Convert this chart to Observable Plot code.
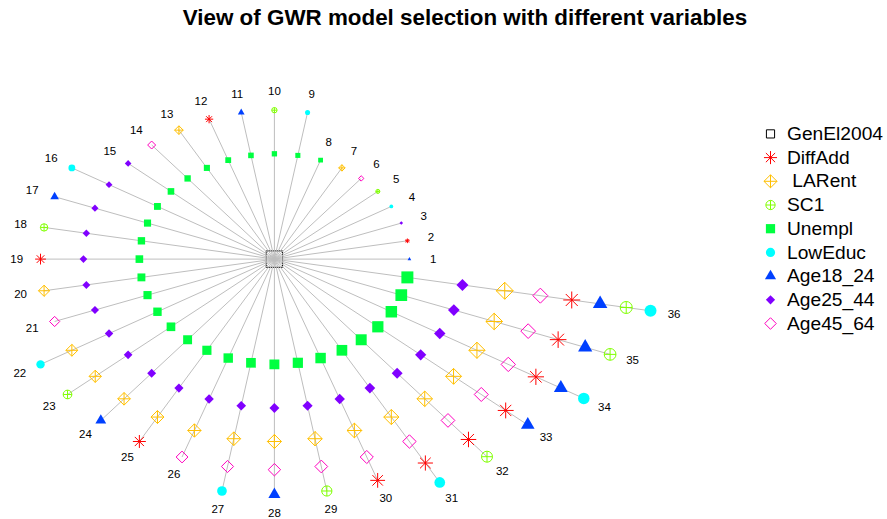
<!DOCTYPE html>
<html>
<head>
<meta charset="utf-8">
<script src="https://cdn.jsdelivr.net/npm/d3@7"></script>
<script src="https://cdn.jsdelivr.net/npm/@observablehq/plot@0.6"></script>
<style>
  body { margin: 0; background: #fff; }
  #wrap { position: relative; width: 887px; height: 519px; overflow: hidden; }
  #title { position: absolute; left: 0; top: 7px; width: 930px; text-align: center;
           font: bold 22.4px "Liberation Sans", Arial, sans-serif; line-height: 22px; color: #000; }
  #chart { position: absolute; left: 0; top: 0; }
</style>
</head>
<body>
<div id="wrap">
  <div id="chart"></div>
  <div id="title">View of GWR model selection with different variables</div>
</div>
<script>
// ---------------- data ----------------
const dependentVar = "GenEl2004";
const variables = ["DiffAdd", "LARent", "SC1", "Unempl", "LowEduc", "Age18_24", "Age25_44", "Age45_64"];
const legendLabels = ["GenEl2004", "DiffAdd", "\u00a0LARent", "SC1", "Unempl", "LowEduc", "Age18_24", "Age25_44", "Age45_64"];
// variable kept after each selection round (stepwise forward selection)
const selectedOrder = ["Unempl", "Age25_44", "LARent", "Age45_64", "DiffAdd", "Age18_24", "SC1"];
// candidate variable tried in each model of each round (models 1..36)
const round1 = ["Age18_24", "DiffAdd", "Age25_44", "LowEduc", "SC1", "Age45_64", "LARent", "Unempl"];
const round2 = ["LowEduc", "SC1", "Age18_24", "DiffAdd", "LARent", "Age45_64", "Age25_44"];
const round3 = ["LowEduc", "Age18_24", "SC1", "DiffAdd", "LARent", "Age45_64"];
const round4 = ["LowEduc", "SC1", "Age18_24", "DiffAdd", "Age45_64"];
const round5 = ["LowEduc", "Age18_24", "SC1", "DiffAdd"];
const round6 = ["LowEduc", "SC1", "Age18_24"];
const round7 = ["LowEduc", "SC1"];
const round8 = ["LowEduc"];

// ---------------- styles ----------------
const colors = ["#FF0000", "#FFBF00", "#80FF00", "#00FF40", "#00FFFF", "#0040FF", "#8000FF", "#FF00BF"];
const R2 = Math.SQRT2;
const rad = s => Math.sqrt(s / Math.PI);
const sym = {
  asterisk: {draw(c, s) { const r = rad(s), q = R2 * r;
    c.moveTo(-r, -r); c.lineTo(r, r); c.moveTo(-r, r); c.lineTo(r, -r);
    c.moveTo(-q, 0); c.lineTo(q, 0); c.moveTo(0, -q); c.lineTo(0, q); }},
  diamondPlus: {draw(c, s) { const d = R2 * rad(s);
    c.moveTo(0, -d); c.lineTo(d, 0); c.lineTo(0, d); c.lineTo(-d, 0); c.closePath();
    c.moveTo(-d, 0); c.lineTo(d, 0); c.moveTo(0, -d); c.lineTo(0, d); }},
  circlePlus: {draw(c, s) { const r = rad(s);
    c.moveTo(r, 0); c.arc(0, 0, r, 0, 2 * Math.PI);
    c.moveTo(-r, 0); c.lineTo(r, 0); c.moveTo(0, -r); c.lineTo(0, r); }},
  squareFill: {draw(c, s) { const r = rad(s); c.rect(-r, -r, 2 * r, 2 * r); }},
  circleFill: {draw(c, s) { const r = rad(s); c.moveTo(r, 0); c.arc(0, 0, r, 0, 2 * Math.PI); }},
  triangleFill: {draw(c, s) { const r = rad(s) * 0.9;
    c.moveTo(0, -1.5551 * r); c.lineTo(1.3468 * r, 0.7776 * r); c.lineTo(-1.3468 * r, 0.7776 * r); c.closePath(); }},
  diamondFill: {draw(c, s) { const r = rad(s);
    c.moveTo(0, -r); c.lineTo(r, 0); c.lineTo(0, r); c.lineTo(-r, 0); c.closePath(); }},
  diamondOpen: {draw(c, s) { const d = 1.2533 * rad(s);
    c.moveTo(0, -d); c.lineTo(d, 0); c.lineTo(0, d); c.lineTo(-d, 0); c.closePath(); }},
  squareOpen: {draw(c, s) { const h = 0.8862 * rad(s); c.rect(-h, -h, 2 * h, 2 * h); }}
};
const varSymbols = ["asterisk", "diamondPlus", "circlePlus", "squareFill", "circleFill", "triangleFill", "diamondFill", "diamondOpen"];
const varFilled = [false, false, false, true, true, true, true, false];

// ---------------- layout ----------------
const W = 887, H = 519;
const CX = 273.9, CY = 258.6, SX = 47.74, SY = 37.23;   // frame: centre and px per unit
const UNIT = 0.375 * 12.3;                                // symbol radius at cex 1 (px)
const px2x = px => (px - CX) / SX, px2y = py => (CY - py) / SY;

// ---------------- derived geometry ----------------
const rounds = [round1, round2, round3, round4, round5, round6, round7, round8];
const models = [];
rounds.forEach((cands, k) => cands.forEach(v => models.push([...selectedOrder.slice(0, k), v])));
const nVar = variables.length;
const alpha = 2 * Math.PI / models.length;
const points = [], rays = [], labels = [];
models.forEach((vars, i) => {
  const a = i * alpha, cs = Math.cos(a), sn = Math.sin(a);
  const cex = (i + 1) / models.length + 0.3;
  vars.forEach((v, j) => {
    const rr = Math.sqrt(nVar) * Math.sqrt(j + 1);
    points.push({model: i + 1, variable: v, x: rr * cs, y: rr * sn, size: UNIT * cex});
  });
  const R = Math.sqrt(nVar) * Math.sqrt(vars.length);
  rays.push({x1: 0, y1: 0, x2: R * cs, y2: R * sn});
  labels.push({x: (R + 0.5) * cs, y: (R + 0.5) * sn, text: String(i + 1)});
});

const legendRows = legendLabels.map((label, k) => ({
  label, k,
  sx: px2x(770), tx: px2x(786.5), y: px2y(133.4 + k * 23.7)
}));

const font = '"Liberation Sans", Arial, sans-serif';
const marks = [
  Plot.dot([{x: 0, y: 0}], {x: "x", y: "y", r: UNIT * 2, symbol: sym.squareOpen, fill: "none", stroke: "black", strokeWidth: 1}),
  Plot.link(rays, {x1: "x1", y1: "y1", x2: "x2", y2: "y2", stroke: "#BEBEBE", strokeWidth: 1}),
  ...variables.map((v, k) => Plot.dot(points.filter(p => p.variable === v), {
    x: "x", y: "y", r: "size", symbol: sym[varSymbols[k]],
    fill: varFilled[k] ? colors[k] : "none",
    stroke: varFilled[k] ? "none" : colors[k], strokeWidth: 1
  })),
  Plot.text(labels, {x: "x", y: "y", text: "text", fontSize: 11.5, fill: "black"}),
  ...legendRows.map(row => Plot.dot([row], {
    x: "sx", y: "y", r: UNIT,
    symbol: row.k === 0 ? sym.squareOpen : sym[varSymbols[row.k - 1]],
    fill: row.k === 0 ? "none" : (varFilled[row.k - 1] ? colors[row.k - 1] : "none"),
    stroke: row.k === 0 ? "black" : (varFilled[row.k - 1] ? "none" : colors[row.k - 1]),
    strokeWidth: 1
  })),
  Plot.text(legendRows, {x: "tx", y: "y", text: "label", textAnchor: "start", fontSize: 19.2, fill: "black"})
];

const chart = Plot.plot({
  width: W, height: H, margin: 0,
  x: {domain: [px2x(0), px2x(W)], axis: null},
  y: {domain: [px2y(H), px2y(0)], axis: null},
  r: {type: "identity"},
  style: {background: "white", fontFamily: font, overflow: "visible"},
  marks
});
document.getElementById("chart").appendChild(chart);
</script>
</body>
</html>
